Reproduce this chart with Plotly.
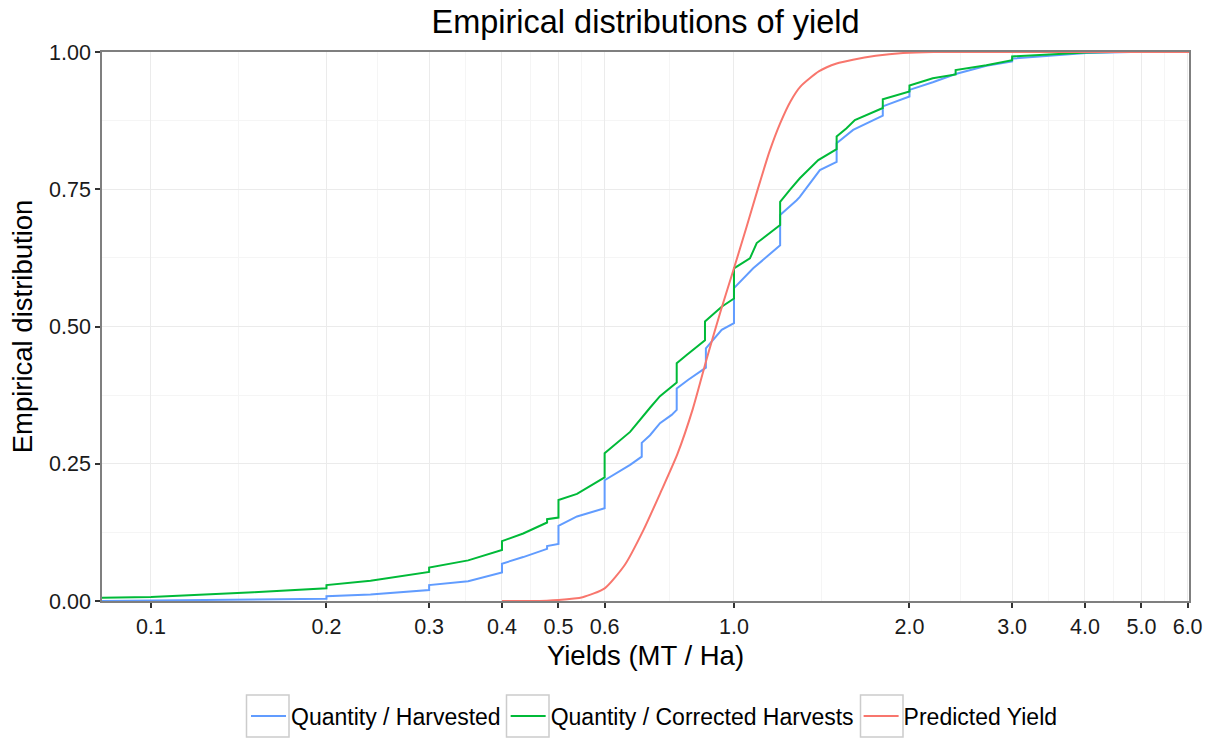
import plotly.graph_objects as go

# ---------------- data ----------------
harvested_x = [0.0824, 0.1, 0.15, 0.2, 0.2, 0.238, 0.3, 0.3, 0.35, 0.4, 0.4, 0.435, 0.478, 0.478,
               0.5, 0.5, 0.538, 0.6, 0.6, 0.6635, 0.6947, 0.6947, 0.7178, 0.7466, 0.7818, 0.7976,
               0.7976, 0.8349, 0.895, 0.895, 0.9526, 1.0, 1.0, 1.079, 1.2, 1.2, 1.281, 1.297,
               1.404, 1.5, 1.5, 1.601, 1.8, 1.8, 2.0, 2.0, 2.193, 2.4, 2.71, 3.0, 3.0, 3.573,
               4.02, 4.8, 6.1]
harvested_y = [0.0, 0.001, 0.002, 0.004, 0.0085, 0.012, 0.020, 0.029, 0.036, 0.052, 0.068, 0.080,
               0.095, 0.100, 0.104, 0.137, 0.154, 0.169, 0.220, 0.248, 0.263, 0.288, 0.302, 0.324,
               0.339, 0.348, 0.387, 0.403, 0.425, 0.460, 0.494, 0.506, 0.570, 0.606, 0.648,
               0.703, 0.730, 0.736, 0.785, 0.800, 0.834, 0.858, 0.884, 0.901, 0.919, 0.931,
               0.945, 0.960, 0.975, 0.983, 0.988, 0.9945, 0.998, 1.0, 1.0]

corrected_x = [0.0824, 0.1, 0.15, 0.2, 0.2, 0.238, 0.3, 0.3, 0.35, 0.4, 0.4, 0.435, 0.478, 0.478,
               0.5, 0.5, 0.538, 0.6, 0.6, 0.6635, 0.7178, 0.7466, 0.7976, 0.7976, 0.8295, 0.8918,
               0.8918, 0.9526, 1.0, 1.0, 1.065, 1.094, 1.2, 1.2, 1.247, 1.297, 1.395, 1.5, 1.5,
               1.56, 1.612, 1.8, 1.8, 2.0, 2.0, 2.193, 2.4, 2.4, 2.71, 3.0, 3.0, 3.573, 4.02,
               4.5, 6.1]
corrected_y = [0.006, 0.0073, 0.016, 0.023, 0.029, 0.037, 0.053, 0.061, 0.074, 0.093, 0.109, 0.123,
               0.143, 0.149, 0.152, 0.184, 0.195, 0.225, 0.269, 0.308, 0.352, 0.373, 0.398, 0.433,
               0.448, 0.475, 0.509, 0.536, 0.551, 0.606, 0.624, 0.652, 0.685, 0.727, 0.749,
               0.770, 0.803, 0.823, 0.846, 0.861, 0.876, 0.898, 0.914, 0.928, 0.939, 0.952,
               0.959, 0.967, 0.976, 0.985, 0.992, 0.9964, 0.999, 1.0, 1.0]

predicted_x = [0.40, 0.45, 0.5, 0.55, 0.6, 0.65, 0.70, 0.75, 0.80, 0.85, 0.90, 0.95, 1.0,
               1.05, 1.10, 1.15, 1.20, 1.25, 1.30, 1.40, 1.50, 1.60, 1.75, 1.95, 2.2, 6.1]
predicted_y = [0.0, 0.0, 0.002, 0.007, 0.023, 0.066, 0.130, 0.200, 0.268, 0.350, 0.445, 0.530,
               0.606, 0.680, 0.752, 0.818, 0.870, 0.910, 0.937, 0.965, 0.979, 0.986, 0.993,
               0.998, 1.0, 1.0]

x_breaks = [0.1, 0.2, 0.3, 0.4, 0.5, 0.6, 1.0, 2.0, 3.0, 4.0, 5.0, 6.0]
x_labels = ["0.1", "0.2", "0.3", "0.4", "0.5", "0.6", "1.0", "2.0", "3.0", "4.0", "5.0", "6.0"]
x_minor = [0.1414, 0.2449, 0.3464, 0.4472, 0.5477, 0.7746, 1.414, 2.449, 3.464, 4.472, 5.477]
y_breaks = [0.0, 0.25, 0.5, 0.75, 1.0]
y_labels = ["0.00", "0.25", "0.50", "0.75", "1.00"]
y_minor = [0.125, 0.375, 0.625, 0.875]

series = [
    ("Quantity / Harvested", harvested_x, harvested_y, "#619CFF", "linear"),
    ("Quantity / Corrected Harvests", corrected_x, corrected_y, "#00BA38", "linear"),
    ("Predicted Yield", predicted_x, predicted_y, "#F8766D", "spline"),
]

FONT = "Liberation Sans, Arial, Helvetica, sans-serif"
W, H = 1215, 740
ML, MR, MT, MB = 102, 26, 52, 139
PW, PH = W - ML - MR, H - MT - MB


def px_x(p):  # pixel -> paper (layout decoration only)
    return (p - ML) / PW


def px_y(p):
    return (H - MB - p) / PH


fig = go.Figure()
for name, xs, ys, col, shp in series:
    fig.add_trace(go.Scatter(x=xs, y=ys, mode="lines", name=name,
                             line=dict(color=col, width=2, shape=shp,
                                       smoothing=0.6 if shp == "spline" else None)))

# legend key boxes (ggplot style)
key_left = [246, 506, 860]
for kl in key_left:
    fig.add_shape(type="rect", xref="paper", yref="paper",
                  x0=px_x(kl + 0.5), x1=px_x(kl + 43), y0=px_y(737), y1=px_y(695),
                  line=dict(color="#CCCCCC", width=1.5), fillcolor="white", layer="below")

fig.update_layout(
    width=W, height=H,
    margin=dict(l=ML, r=MR, t=MT, b=MB, autoexpand=False),
    paper_bgcolor="white", plot_bgcolor="white",
    font=dict(family=FONT, color="black"),
    title=dict(text="Empirical distributions of yield", x=0.5, xref="paper",
               y=1 - 22 / H, yref="container", yanchor="middle", xanchor="center",
               font=dict(size=32.5, color="black")),
    legend=dict(orientation="h", x=px_x(246), xanchor="left", y=px_y(716), yanchor="middle",
                font=dict(size=23, color="black"), itemwidth=35,
                bgcolor="rgba(0,0,0,0)", tracegroupgap=0),
    showlegend=True,
)

fig.update_xaxes(
    type="log", range=[-1.084, 0.7805], automargin=False,
    tickmode="array", tickvals=x_breaks, ticktext=x_labels,
    tickfont=dict(size=21.5, color="#1a1a1a"),
    ticks="outside", ticklen=5, tickwidth=1.5, tickcolor="#333333",
    showgrid=True, gridcolor="#EBEBEB", gridwidth=1.3,
    minor=dict(tickmode="array", tickvals=x_minor, showgrid=True,
               gridcolor="#F5F5F5", gridwidth=1, ticks=""),
    showline=True, linecolor="#7F7F7F", linewidth=1.5, mirror=True,
    zeroline=False,
    title=dict(text="Yields (MT / Ha)", font=dict(size=27.5, color="black"), standoff=8),
)
fig.update_yaxes(
    range=[0, 1], automargin=False,
    tickmode="array", tickvals=y_breaks, ticktext=y_labels,
    tickfont=dict(size=21.5, color="#1a1a1a"),
    ticks="outside", ticklen=5, tickwidth=1.5, tickcolor="#333333",
    showgrid=True, gridcolor="#EBEBEB", gridwidth=1.3,
    minor=dict(tickmode="array", tickvals=y_minor, showgrid=True,
               gridcolor="#F5F5F5", gridwidth=1, ticks=""),
    showline=True, linecolor="#7F7F7F", linewidth=1.5, mirror=True,
    zeroline=False,
    title=dict(text="Empirical distribution", font=dict(size=27.5, color="black"), standoff=8),
)

fig.write_html("out.html")
